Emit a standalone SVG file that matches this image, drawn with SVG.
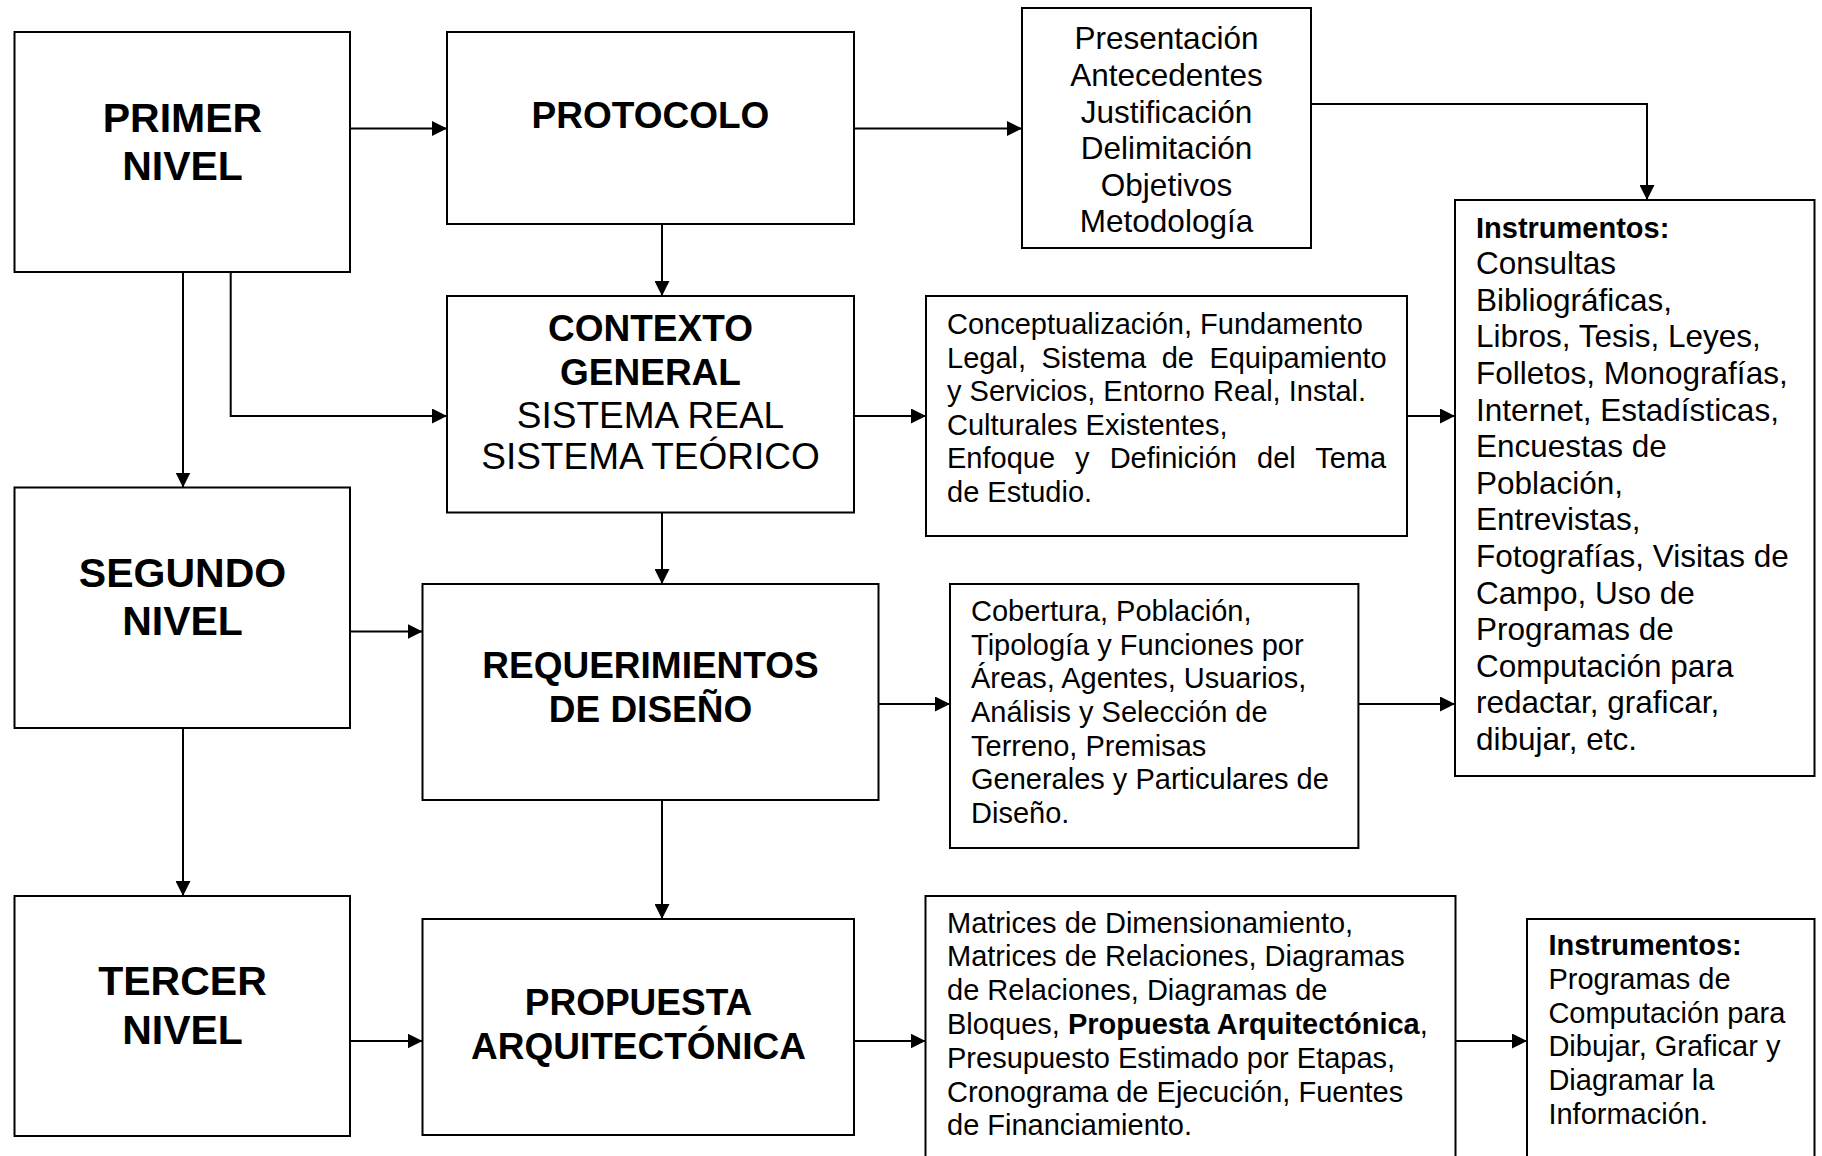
<svg xmlns="http://www.w3.org/2000/svg" width="1822" height="1156" viewBox="0 0 1822 1156">
<style>
  .box{fill:#fff;stroke:#000;stroke-width:2}
  .ln{fill:none;stroke:#000;stroke-width:2}
  text{font-family:"Liberation Sans",Arial,sans-serif;fill:#000}
  .lvl{font-size:41px;font-weight:bold;text-anchor:middle}
  .hd{font-size:37px;font-weight:bold;text-anchor:middle}
  .hr{font-size:37px;text-anchor:middle}
  .lst{font-size:31.5px;text-anchor:middle}
  .ins{font-size:31.5px}
  .sm{font-size:29px}
  .b{font-weight:bold}
</style>
<defs>
  <marker id="ah" markerUnits="userSpaceOnUse" markerWidth="15" markerHeight="15" refX="15" refY="7.5" orient="auto">
    <path d="M0,0 L15,7.5 L0,15 z" fill="#000"/>
  </marker>
</defs>
<rect width="1822" height="1156" fill="#fff"/>

<g id="connectors">
  <path class="ln" d="M350,128.5 H447" marker-end="url(#ah)"/>
  <path class="ln" d="M854,128.5 H1022" marker-end="url(#ah)"/>
  <path class="ln" d="M1311,104 H1647 V200" marker-end="url(#ah)"/>
  <path class="ln" d="M662,224 V296" marker-end="url(#ah)"/>
  <path class="ln" d="M230.7,272 V416 H447" marker-end="url(#ah)"/>
  <path class="ln" d="M183,272 V487.5" marker-end="url(#ah)"/>
  <path class="ln" d="M854,416 H926" marker-end="url(#ah)"/>
  <path class="ln" d="M1407,416 H1455" marker-end="url(#ah)"/>
  <path class="ln" d="M662,512.5 V584" marker-end="url(#ah)"/>
  <path class="ln" d="M350,631.5 H422.5" marker-end="url(#ah)"/>
  <path class="ln" d="M878.5,704 H950" marker-end="url(#ah)"/>
  <path class="ln" d="M1358.4,704 H1455" marker-end="url(#ah)"/>
  <path class="ln" d="M662,800 V919" marker-end="url(#ah)"/>
  <path class="ln" d="M183,728 V896" marker-end="url(#ah)"/>
  <path class="ln" d="M350,1041 H422.5" marker-end="url(#ah)"/>
  <path class="ln" d="M854,1041 H925.5" marker-end="url(#ah)"/>
  <path class="ln" d="M1455.5,1041 H1527" marker-end="url(#ah)"/>
</g>

<g id="primer-nivel">
  <rect class="box" x="14.5" y="32" width="335.5" height="240"/>
  <text class="lvl" x="182.5" y="132">PRIMER</text>
  <text class="lvl" x="182.5" y="180">NIVEL</text>
</g>

<g id="segundo-nivel">
  <rect class="box" x="14.5" y="487.5" width="335.5" height="240.5"/>
  <text class="lvl" x="182.5" y="587">SEGUNDO</text>
  <text class="lvl" x="182.5" y="635">NIVEL</text>
</g>

<g id="tercer-nivel">
  <rect class="box" x="14.5" y="896" width="335.5" height="240"/>
  <text class="lvl" x="182.5" y="995">TERCER</text>
  <text class="lvl" x="182.5" y="1044">NIVEL</text>
</g>

<g id="protocolo">
  <rect class="box" x="447" y="32" width="407" height="192"/>
  <text class="hd" x="650.5" y="127.5">PROTOCOLO</text>
</g>

<g id="contexto-general">
  <rect class="box" x="447" y="296" width="407" height="216.5"/>
  <text class="hd" x="650.5" y="341">CONTEXTO</text>
  <text class="hd" x="650.5" y="384.5">GENERAL</text>
  <text class="hr" x="650.5" y="427.5">SISTEMA REAL</text>
  <text class="hr" x="650.5" y="469">SISTEMA TEÓRICO</text>
</g>

<g id="requerimientos">
  <rect class="box" x="422.5" y="584" width="456" height="216"/>
  <text class="hd" x="650.5" y="678">REQUERIMIENTOS</text>
  <text class="hd" x="650.5" y="721.5">DE DISEÑO</text>
</g>

<g id="propuesta">
  <rect class="box" x="422.5" y="919" width="431.5" height="216"/>
  <text class="hd" x="638.5" y="1015">PROPUESTA</text>
  <text class="hd" x="638.5" y="1059">ARQUITECTÓNICA</text>
</g>

<g id="protocolo-lista">
  <rect class="box" x="1022" y="8" width="289" height="240"/>
  <text class="lst" x="1166.5" y="49.3">Presentación</text>
  <text class="lst" x="1166.5" y="85.9">Antecedentes</text>
  <text class="lst" x="1166.5" y="122.5">Justificación</text>
  <text class="lst" x="1166.5" y="159.1">Delimitación</text>
  <text class="lst" x="1166.5" y="195.7">Objetivos</text>
  <text class="lst" x="1166.5" y="232.3">Metodología</text>
</g>

<g id="instrumentos-1">
  <rect class="box" x="1455" y="200" width="359.5" height="576"/>
  <text class="sm b" x="1476" y="237.5">Instrumentos:</text>
  <text class="ins" x="1476" y="274.1">Consultas</text>
  <text class="ins" x="1476" y="310.7">Bibliográficas,</text>
  <text class="ins" x="1476" y="347.3">Libros, Tesis, Leyes,</text>
  <text class="ins" x="1476" y="383.9">Folletos, Monografías,</text>
  <text class="ins" x="1476" y="420.5">Internet, Estadísticas,</text>
  <text class="ins" x="1476" y="457.1">Encuestas de</text>
  <text class="ins" x="1476" y="493.7">Población,</text>
  <text class="ins" x="1476" y="530.3">Entrevistas,</text>
  <text class="ins" x="1476" y="566.9">Fotografías, Visitas de</text>
  <text class="ins" x="1476" y="603.5">Campo, Uso de</text>
  <text class="ins" x="1476" y="640.1">Programas de</text>
  <text class="ins" x="1476" y="676.7">Computación para</text>
  <text class="ins" x="1476" y="713.3">redactar, graficar,</text>
  <text class="ins" x="1476" y="749.9">dibujar, etc.</text>
</g>

<g id="contexto-detalle">
  <rect class="box" x="926" y="296" width="481" height="240"/>
  <text class="sm" x="947" y="334">Conceptualización, Fundamento</text>
  <text class="sm" x="947" y="367.6" word-spacing="7.4">Legal, Sistema de Equipamiento</text>
  <text class="sm" x="947" y="401.2">y Servicios, Entorno Real, Instal.</text>
  <text class="sm" x="947" y="434.8">Culturales Existentes,</text>
  <text class="sm" x="947" y="468.4" word-spacing="12">Enfoque y Definición del Tema</text>
  <text class="sm" x="947" y="502">de Estudio.</text>
</g>

<g id="requerimientos-detalle">
  <rect class="box" x="950" y="584" width="408.4" height="264"/>
  <text class="sm" x="971" y="620.8">Cobertura, Población,</text>
  <text class="sm" x="971" y="654.5">Tipología y Funciones por</text>
  <text class="sm" x="971" y="688.2">Áreas, Agentes, Usuarios,</text>
  <text class="sm" x="971" y="721.9">Análisis y Selección de</text>
  <text class="sm" x="971" y="755.6">Terreno, Premisas</text>
  <text class="sm" x="971" y="789.3">Generales y Particulares de</text>
  <text class="sm" x="971" y="823">Diseño.</text>
</g>

<g id="propuesta-detalle">
  <rect class="box" x="925.5" y="896" width="530" height="280"/>
  <text class="sm" x="947" y="932.5">Matrices de Dimensionamiento,</text>
  <text class="sm" x="947" y="966.3">Matrices de Relaciones, Diagramas</text>
  <text class="sm" x="947" y="1000.1">de Relaciones, Diagramas de</text>
  <text class="sm" x="947" y="1033.9">Bloques, <tspan class="b">Propuesta Arquitectónica</tspan>,</text>
  <text class="sm" x="947" y="1067.7">Presupuesto Estimado por Etapas,</text>
  <text class="sm" x="947" y="1101.5">Cronograma de Ejecución, Fuentes</text>
  <text class="sm" x="947" y="1135.3">de Financiamiento.</text>
</g>

<g id="instrumentos-2">
  <rect class="box" x="1527" y="919" width="287.5" height="260"/>
  <text class="sm b" x="1548.4" y="955">Instrumentos:</text>
  <text class="sm" x="1548.4" y="988.8">Programas de</text>
  <text class="sm" x="1548.4" y="1022.6">Computación para</text>
  <text class="sm" x="1548.4" y="1056.4">Dibujar, Graficar y</text>
  <text class="sm" x="1548.4" y="1090.2">Diagramar la</text>
  <text class="sm" x="1548.4" y="1124">Información.</text>
</g>
</svg>
